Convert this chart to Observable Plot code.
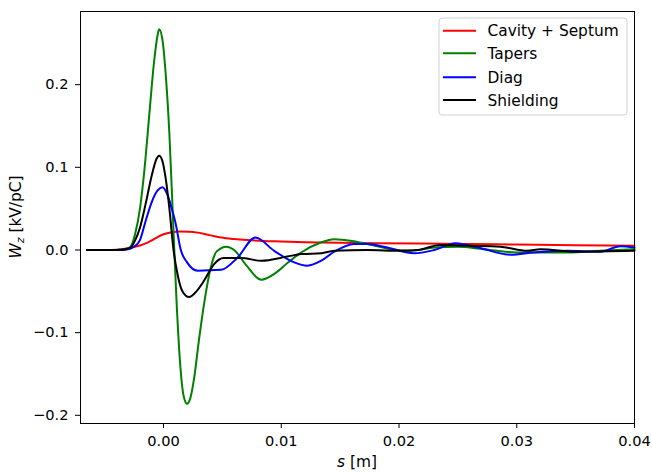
<!DOCTYPE html>
<html>
<head>
<meta charset="utf-8">
<script src="https://cdn.jsdelivr.net/npm/d3@7"></script>
<script src="https://cdn.jsdelivr.net/npm/@observablehq/plot@0.6"></script>
<style>
  html, body { margin: 0; padding: 0; background: #fff; }
  #chart { width: 652px; height: 472px; }
</style>
</head>
<body>
<div id="chart"></div>
<script>
// ---- data ----
const seriesNames = ["Cavity + Septum", "Tapers", "Diag", "Shielding"];
const seriesColors = ["#ff0000", "#008000", "#0000ff", "#000000"];

const sCavity = [-0.0065, -0.0045, -0.0035, -0.0028, -0.002, -0.00136, -0.0007, 0.0, 0.0007, 0.00147, 0.0022, 0.0029, 0.0039, 0.0049, 0.006, 0.0071, 0.0085, 0.01, 0.012, 0.015, 0.018, 0.022, 0.026, 0.03, 0.035, 0.04];
const wCavity = [0.0, 0.0, 0.001, 0.003, 0.0055, 0.009, 0.014, 0.019, 0.0215, 0.0225, 0.0222, 0.021, 0.018, 0.015, 0.0132, 0.012, 0.011, 0.0104, 0.0095, 0.0088, 0.0083, 0.0078, 0.0072, 0.0065, 0.0058, 0.0052];

const sTapers = [-0.0065, -0.004, -0.0032, -0.0028, -0.0024, -0.002, -0.0016, -0.0012, -0.0008, -0.0005, -0.00037, -0.0001, 0.0002, 0.0005, 0.0008, 0.0011, 0.0014, 0.0017, 0.002, 0.0023, 0.0026, 0.003, 0.0035, 0.004, 0.0045, 0.00535, 0.006, 0.007, 0.0083, 0.0095, 0.0105, 0.0117, 0.01335, 0.0145, 0.016, 0.0173, 0.0193, 0.021, 0.023, 0.025, 0.0272, 0.03, 0.0343, 0.0371, 0.04];
const wTapers = [0.0, 0.0, 0.001, 0.004, 0.02, 0.05, 0.1, 0.165, 0.228, 0.26, 0.267, 0.255, 0.21, 0.14, 0.04, -0.06, -0.135, -0.176, -0.186, -0.178, -0.155, -0.11, -0.06, -0.022, -0.002, 0.004, 0.0, -0.018, -0.036, -0.028, -0.016, -0.003, 0.009, 0.013, 0.011, 0.0073, 0.001, -0.001, 0.003, 0.004, 0.001, -0.003, -0.003, -0.001, 0.001];

const sDiag = [-0.0065, -0.004, -0.003, -0.0025, -0.002, -0.0015, -0.001, -0.0005, -0.0001, 0.0003, 0.0007, 0.001, 0.00147, 0.002, 0.0029, 0.0049, 0.0063, 0.0078, 0.0094, 0.0111, 0.0122, 0.0134, 0.0145, 0.0162, 0.0173, 0.019, 0.0213, 0.023, 0.0248, 0.0267, 0.0295, 0.0314, 0.0343, 0.0371, 0.0388, 0.04];
const wDiag = [0.0, 0.0, 0.001, 0.004, 0.012, 0.036, 0.058, 0.072, 0.0758, 0.068, 0.05, 0.034, 0.0, -0.015, -0.025, -0.024, -0.009, 0.015, -0.001, -0.015, -0.019, -0.013, -0.002, 0.0073, 0.0073, 0.003, -0.004, 0.0, 0.008, 0.003, -0.0057, -0.003, -0.001, -0.002, 0.0044, 0.003];

const sShield = [-0.0065, -0.004, -0.0032, -0.0028, -0.0024, -0.002, -0.0015, -0.001, -0.0006, -0.00037, -0.0001, 0.0002, 0.0005, 0.00085, 0.0012, 0.0016, 0.00217, 0.0028, 0.00345, 0.0043, 0.0051, 0.0066, 0.0083, 0.0105, 0.0117, 0.0134, 0.0145, 0.0173, 0.0201, 0.0216, 0.0235, 0.0258, 0.0286, 0.0309, 0.032, 0.0351, 0.04];
const wShield = [0.0, 0.0, 0.001, 0.003, 0.012, 0.027, 0.057, 0.09, 0.11, 0.114, 0.108, 0.085, 0.05, 0.0, -0.03, -0.05, -0.057, -0.05, -0.037, -0.017, -0.0097, -0.0097, -0.013, -0.008, -0.005, -0.004, -0.001, 0.0, -0.001, 0.0, 0.006, 0.005, 0.004, -0.001, 0.001, -0.002, -0.001];

const xTicks = [0.0, 0.01, 0.02, 0.03, 0.04];
const yTicks = [-0.2, -0.1, 0.0, 0.1, 0.2];

// ---- build table ----
const sArrays = [sCavity, sTapers, sDiag, sShield];
const wArrays = [wCavity, wTapers, wDiag, wShield];
const rows = [];
seriesNames.forEach((name, i) => {
  sArrays[i].forEach((s, j) => rows.push({series: name, s, w: wArrays[i][j]}));
});

const W = 652, H = 472;
const mL = 80, mR = 18, mT = 11, mB = 49;

const chart = Plot.plot({
  width: W, height: H,
  marginLeft: mL, marginRight: mR, marginTop: mT, marginBottom: mB,
  style: {fontFamily: "DejaVu Sans, sans-serif", fontSize: "14px", color: "#000", background: "#fff"},
  x: {domain: [-0.00705, 0.04], label: null},
  y: {domain: [-0.2099, 0.2885], label: null},
  color: {domain: seriesNames, range: seriesColors},
  marks: [
    Plot.line(rows, {x: "s", y: "w", z: "series", stroke: "series", strokeWidth: 2, curve: "monotone-x"}),
    Plot.frame({stroke: "#000", strokeWidth: 1}),
    Plot.axisX({ticks: xTicks, tickFormat: d3.format(".2f"), tickSize: 5, tickPadding: 7, fontSize: 14, stroke: "#000"}),
    Plot.axisY({ticks: yTicks, tickFormat: d3.format(".1f"), tickSize: 5, tickPadding: 7, fontSize: 14, stroke: "#000"})
  ]
});

document.getElementById("chart").appendChild(chart);

const svg = d3.select(chart);
// force the tick-label size on every text Plot produced
svg.selectAll("text").style("font-size", "14.6px").style("font-family", "'DejaVu Sans', sans-serif");

// axis labels
svg.append("text")
  .attr("x", mL + (W - mL - mR) / 2).attr("y", 467)
  .attr("text-anchor", "middle").style("font-size", "15.4px").attr("fill", "#000")
  .call(t => { t.append("tspan").attr("font-style", "italic").text("s"); t.append("tspan").text(" [m]"); });

const yl = svg.append("text")
  .attr("transform", `translate(21,${mT + (H - mT - mB) / 2}) rotate(-90)`)
  .attr("text-anchor", "middle").style("font-size", "15.4px").attr("fill", "#000");
yl.append("tspan").attr("font-style", "italic").text("W");
yl.append("tspan").style("font-size", "11px").attr("dy", 3).attr("font-style", "italic").text("z");
yl.append("tspan").attr("dy", -3).text(" [kV/pC]");

// legend
const lg = svg.append("g").attr("text-anchor", "start");
lg.append("rect").attr("x", 439).attr("y", 18).attr("width", 188).attr("height", 97)
  .attr("rx", 3).attr("fill", "#fff").attr("fill-opacity", 0.8).attr("stroke", "#d0d0d0");
const rowsY = [30.7, 53.3, 77.3, 100];
seriesNames.forEach((name, i) => {
  lg.append("line").attr("x1", 443).attr("x2", 476).attr("y1", rowsY[i]).attr("y2", rowsY[i])
    .attr("stroke", seriesColors[i]).attr("stroke-width", 2);
  lg.append("text").attr("x", 487.5).attr("y", rowsY[i] + 5.5).style("font-size", "15.4px")
    .attr("text-anchor", "start").attr("fill", "#000").text(name);
});
</script>
</body>
</html>
